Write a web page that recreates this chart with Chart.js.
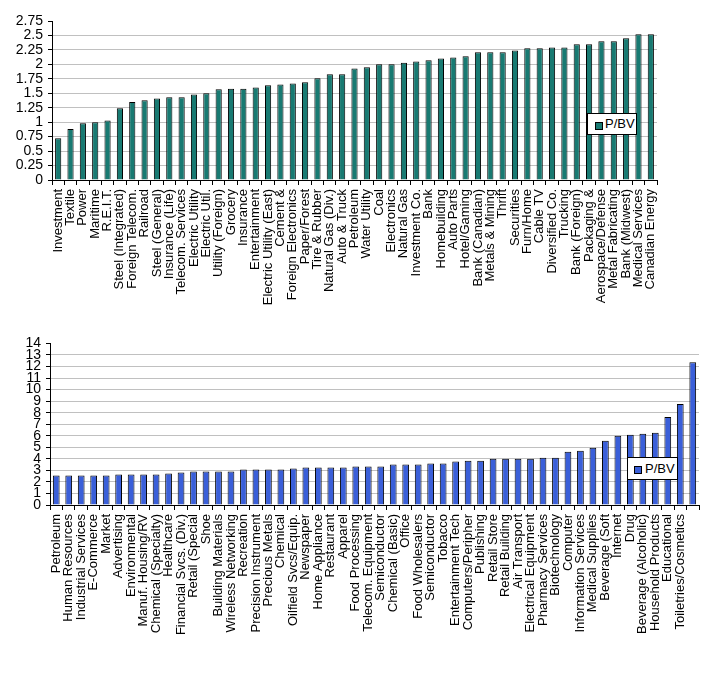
<!DOCTYPE html>
<html>
<head>
<meta charset="utf-8">
<script src="https://cdn.jsdelivr.net/npm/chart.js@4"></script>
<style>
  html, body { margin: 0; padding: 0; background: #fff; }
  body { width: 724px; height: 673px; position: relative; overflow: hidden; font-family: "Liberation Sans", Arial, sans-serif; }
  .wrap { position: absolute; left: 0; width: 724px; }
  #w1 { top: 0; height: 330px; }
  #w2 { top: 330px; height: 343px; }
  .legend { position: absolute; background: #fff; border: 1px solid #000; box-sizing: border-box; font-size: 13px; color: #000; z-index: 5; }
  .legend .sw { position: absolute; border: 1px solid #000; box-sizing: border-box; }
  .legend .tx { position: absolute; line-height: 16px; }
</style>
</head>
<body>
<div class="wrap" id="w1"><canvas id="c1" width="724" height="330"></canvas></div>
<div class="wrap" id="w2"><canvas id="c2" width="724" height="343"></canvas></div>
<div class="legend" style="left:587px;top:113px;width:50px;height:22px;">
  <div class="sw" style="left:7px;top:8px;width:8px;height:8px;background:#187a72;"></div>
  <div class="tx" style="left:17px;top:2px;">P/BV</div>
</div>
<div class="legend" style="left:627px;top:457px;width:51px;height:23px;">
  <div class="sw" style="left:6px;top:8px;width:8px;height:8px;background:#3a5fd9;"></div>
  <div class="tx" style="left:17px;top:3px;">P/BV</div>
</div>
<script>
const topCategories = ["Investment","Textile","Power","Maritime","R.E.I.T.","Steel (Integrated)","Foreign Telecom.","Railroad","Steel (General)","Insurance (Life)","Telecom. Services","Electric Utility","Electric Util.","Utility (Foreign)","Grocery","Insurance","Entertainment","Electric Utility (East)","Cement &","Foreign Electronics","Paper/Forest","Tire & Rubber","Natural Gas (Div.)","Auto & Truck","Petroleum","Water Utility","Coal","Electronics","Natural Gas","Investment Co.","Bank","Homebuilding","Auto Parts","Hotel/Gaming","Bank (Canadian)","Metals & Mining","Thrift","Securities","Furn/Home","Cable TV","Diversified Co.","Trucking","Bank (Foreign)","Packaging &","Aerospace/Defense","Metal Fabricating","Bank (Midwest)","Medical Services","Canadian Energy"];
const topValues = [0.72,0.88,0.98,1.00,1.03,1.24,1.35,1.38,1.41,1.43,1.43,1.48,1.50,1.57,1.58,1.58,1.60,1.64,1.65,1.67,1.69,1.76,1.83,1.83,1.93,1.95,2.00,2.00,2.03,2.05,2.07,2.10,2.12,2.14,2.21,2.21,2.21,2.24,2.28,2.28,2.29,2.29,2.35,2.35,2.40,2.40,2.45,2.52,2.52];

const bottomCategories = ["Petroleum","Human Resources","Industrial Services","E-Commerce","Market","Advertising","Environmental","Manuf. Housing/RV","Chemical (Specialty)","Healthcare","Financial Svcs. (Div.)","Retail (Special","Shoe","Building Materials","Wireless Networking","Recreation","Precision Instrument","Precious Metals","Chemical","Oilfield Svcs/Equip.","Newspaper","Home Appliance","Restaurant","Apparel","Food Processing","Telecom. Equipment","Semiconductor","Chemical (Basic)","Office","Food Wholesalers","Semiconductor","Tobacco","Entertainment Tech","Computers/Peripher","Publishing","Retail Store","Retail Building","Air Transport","Electrical Equipment","Pharmacy Services","Biotechnology","Computer","Information Services","Medical Supplies","Beverage (Soft","Internet","Drug","Beverage (Alcoholic)","Household Products","Educational","Toiletries/Cosmetics",""];
const bottomValues = [2.55,2.55,2.55,2.55,2.55,2.64,2.64,2.64,2.64,2.73,2.81,2.90,2.90,2.90,2.90,3.07,3.07,3.07,3.07,3.16,3.24,3.24,3.24,3.24,3.33,3.33,3.33,3.50,3.50,3.50,3.59,3.59,3.76,3.84,3.84,4.00,4.00,4.00,4.00,4.10,4.10,4.62,4.70,4.96,5.57,6.00,6.08,6.17,6.25,7.63,8.75,12.36];

const topTicks = {min: 0, max: 2.75, step: 0.25};
const bottomTicks = {min: 0, max: 14, step: 1};

const FONT = "'Liberation Sans', Arial, sans-serif";

function makeChart(id, labels, values, color, ticks, cfg) {
  return new Chart(document.getElementById(id), {
    type: 'bar',
    data: {
      labels: labels,
      datasets: [{
        label: 'P/BV',
        data: values,
        backgroundColor: color,
        borderColor: '#000',
        borderWidth: 1,
        barPercentage: cfg.barPct,
        categoryPercentage: 1.0
      }]
    },
    options: {
      responsive: false,
      animation: false,
      devicePixelRatio: 1,
      layout: { padding: { top: cfg.padTop, right: cfg.padRight, left: 0, bottom: 0 } },
      plugins: { legend: { display: false }, tooltip: { enabled: false } },
      scales: {
        x: {
          offset: true,
          grid: { offset: true, drawOnChartArea: false, drawTicks: true, tickLength: 5, color: '#000' },
          border: { color: '#000', width: 1 },
          ticks: { autoSkip: false, minRotation: 90, maxRotation: 90, padding: 4, color: '#000', font: { family: FONT, size: 13 } },
          afterFit: s => { s.height = cfg.xHeight; }
        },
        y: {
          min: ticks.min, max: ticks.max,
          grid: {
            color: c => (c.tick && c.tick.value === ticks.max) ? 'rgba(0,0,0,0)' : '#c0c0c0',
            tickColor: '#000', tickLength: 4, drawTicks: true
          },
          border: { color: '#000', width: 1 },
          ticks: { stepSize: ticks.step, autoSkip: false, padding: 5, color: '#000', font: { family: FONT, size: cfg.yFont }, callback: v => String(+v.toFixed(2)) },
          afterFit: s => { s.width = cfg.yWidth; }
        }
      }
    }
  });
}

makeChart('c1', topCategories, topValues, '#187a72', topTicks,
  { barPct: 0.5, padTop: 21, padRight: 67, xHeight: 150, yWidth: 52, yFont: 14 });
makeChart('c2', bottomCategories, bottomValues, '#3a5fd9', bottomTicks,
  { barPct: 0.54, padTop: 12, padRight: 25, xHeight: 168, yWidth: 50, yFont: 14 });
</script>
</body>
</html>
